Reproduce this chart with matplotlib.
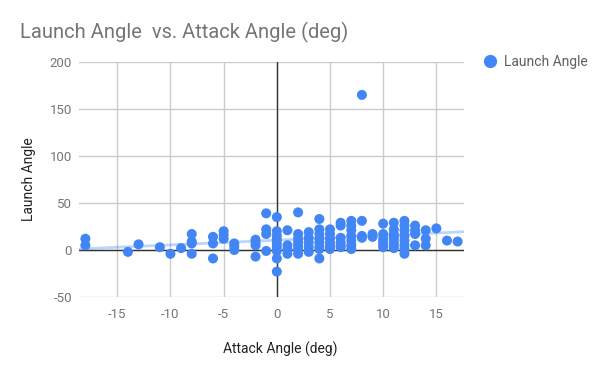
import matplotlib
matplotlib.use("Agg")
import matplotlib.pyplot as plt
import numpy as np

plt.rcParams['font.family'] = ['Roboto', 'DejaVu Sans']
plt.rcParams['axes.unicode_minus'] = False

attack_angle = [
    -18, -18,
    -14, -13, -11, -10, -9,
    -8, -8, -8, -8,
    -6, -6, -6,
    -5, -5, -5,
    -4, -4, -4,
    -2, -2, -2, -2,
    -1, -1, -1, -1,
    0, 0, 0, 0, 0, 0, 0, 0, 0,
    1, 1, 1, 1,
    2, 2, 2, 2, 2, 2, 2,
    3, 3, 3, 3, 3,
    4, 4, 4, 4, 4, 4, 4, 4,
    5, 5, 5, 5, 5, 5,
    6, 6, 6, 6, 6, 6,
    7, 7, 7, 7, 7, 7, 7,
    8, 8, 8, 8,
    9, 9,
    10, 10, 10, 10, 10, 10,
    11, 11, 11, 11, 11, 11, 11, 11,
    12, 12, 12, 12, 12, 12, 12, 12,
    13, 13, 13, 13,
    14, 14, 14,
    15, 16, 17,
]
launch_angle = [
    12, 5,
    -2, 6, 3, -4, 2,
    17, 9, 7, -4,
    14, 7, -9,
    20, 16, 12,
    7, 4, 0,
    11, 8, 5, -7,
    39, 22, 17, -1,
    35, 20, 15, 11, 7, 3, -1, -9, -23,
    21, 5, 1, -4,
    40, 17, 12, 8, 5, 1, -4,
    19, 13, 8, 3, -2,
    33, 22, 17, 12, 8, 4, 1, -9,
    22, 17, 12, 8, 4, 1,
    29, 26, 13, 8, 5, 3,
    31, 26, 21, 15, 10, 5, 1,
    31, 165, 15, 13,
    17, 14,
    28, 17, 12, 9, 6, 3,
    29, 22, 17, 14, 12, 8, 5, 2,
    31, 26, 21, 15, 10, 5, 1, -4,
    26, 21, 17, 5,
    21, 12, 5,
    23, 10, 9,
]

x_ticks = [-15, -10, -5, 0, 5, 10, 15]
y_ticks = [-50, 0, 50, 100, 150, 200]

blue = '#4285F4'
grid_c = '#cccccc'
text_c = '#757575'

fig = plt.figure(figsize=(6, 3.71), dpi=100)
ax = fig.add_axes([79/600, 1-297/371, (464-79)/600, (297-62)/371])

xmin, xmax = -18.6, 17.6
ax.set_xlim(xmin, xmax)
ax.set_ylim(-50, 200)

ax.set_xticks(x_ticks)
ax.set_yticks(y_ticks)
ax.grid(True, color=grid_c, linewidth=1)
ax.set_axisbelow(True)
ax.axhline(0, color='#333333', linewidth=1, zorder=1)
ax.axvline(0, color='#333333', linewidth=1, zorder=1)
for s in ax.spines.values():
    s.set_visible(False)
ax.tick_params(axis='y', length=0, labelsize=9.5, colors=text_c, pad=5)
ax.tick_params(axis='x', length=0, labelsize=9.5, colors=text_c, pad=8)

# trendline (linear regression)
xa = np.array(attack_angle, dtype=float)
ya = np.array(launch_angle, dtype=float)
m, b = np.polyfit(xa, ya, 1)
xs = np.array([xmin, xmax])
ax.plot(xs, m * xs + b, color=blue, alpha=0.35, linewidth=2, zorder=2)

ax.scatter(attack_angle, launch_angle, s=52, color=blue, edgecolors='none',
           zorder=3, clip_on=False, label='Launch Angle')

ax.set_xlabel('Attack Angle (deg)', fontsize=10, color='#222222', labelpad=14)
ax.xaxis.set_label_coords((280-79)/(464-79), -0.19)
ax.set_ylabel('Launch Angle', fontsize=10, color='#222222', labelpad=10)

fig.text(20/600, 1-32/371, 'Launch Angle  vs. Attack Angle (deg)', fontsize=14.5,
         color=text_c, va='center', ha='left')

# legend
fig.legend(handles=[plt.Line2D([], [], marker='o', linestyle='none', color=blue,
                               markersize=8.5)],
           labels=['Launch Angle'], loc='center left',
           bbox_to_anchor=(471/600, 1-62/371), frameon=False, fontsize=10,
           labelcolor='#5f5f5f', handletextpad=0.0, borderaxespad=0)

fig.savefig('out.png', dpi=100)
